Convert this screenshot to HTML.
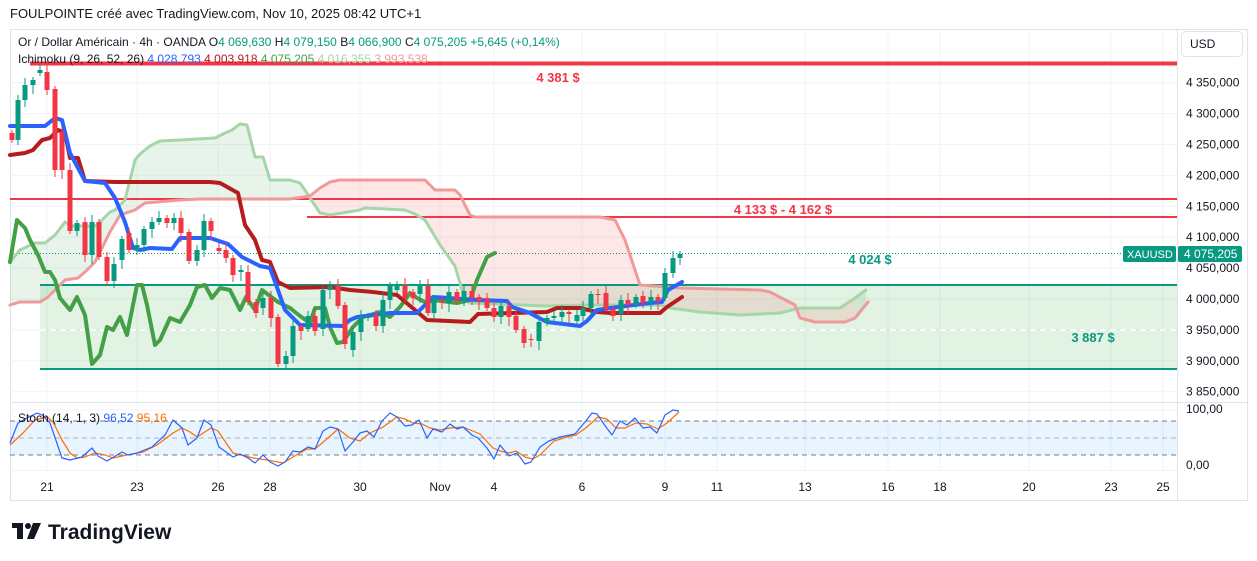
<!DOCTYPE html>
<html><head><meta charset="utf-8"><style>
body{margin:0;background:#fff;width:1257px;height:561px;overflow:hidden;font-family:"Liberation Sans",sans-serif;}
svg{position:absolute;left:0;top:0}
</style></head><body>
<svg id="s" width="1257" height="561" xmlns="http://www.w3.org/2000/svg" font-family="Liberation Sans, sans-serif">
<text x="10" y="18" font-size="13" fill="#131722">FOULPOINTE créé avec TradingView.com, Nov 10, 2025 08:42 UTC+1</text>
<rect x="10.5" y="29.5" width="1237" height="471" fill="none" stroke="#e0e3eb"/>
<g id="grid" stroke="#f0f3fa" stroke-width="1"></g>
<rect x="40" y="284" width="1137" height="85" fill="#4CAF50" fill-opacity="0.16"/>
<g id="cloud"></g>
<line x1="40" y1="330" x2="1177" y2="330" stroke="#fff" stroke-width="1.5" stroke-dasharray="6,4"/>
<line x1="40" y1="285" x2="1177" y2="285" stroke="#089981" stroke-width="2"/>
<line x1="40" y1="369" x2="1177" y2="369" stroke="#089981" stroke-width="2"/>
<line x1="10" y1="199" x2="1177" y2="199" stroke="#F23645" stroke-width="2"/>
<line x1="307" y1="217" x2="1177" y2="217" stroke="#F23645" stroke-width="2"/>
<line x1="30" y1="63.5" x2="1177" y2="63.5" stroke="#F23645" stroke-width="4"/>
<line x1="10" y1="253.5" x2="1177" y2="253.5" stroke="#089981" stroke-width="1" stroke-dasharray="1,2"/>
<g id="lines" fill="none" stroke-linejoin="round" stroke-linecap="round"></g>
<g id="candles"></g>
<text x="558" y="82" font-size="13" font-weight="bold" fill="#F23645" text-anchor="middle">4 381 $</text>
<text x="783" y="214" font-size="13" font-weight="bold" fill="#F23645" text-anchor="middle">4 133 $ - 4 162 $</text>
<text x="870" y="264" font-size="13" font-weight="bold" fill="#089981" text-anchor="middle">4 024 $</text>
<text x="1093" y="342" font-size="13" font-weight="bold" fill="#089981" text-anchor="middle">3 887 $</text>
<text x="18" y="46" font-size="12" fill="#131722">Or / Dollar Américain · 4h · OANDA <tspan>O</tspan><tspan fill="#089981">4 069,630</tspan> <tspan>H</tspan><tspan fill="#089981">4 079,150</tspan> <tspan>B</tspan><tspan fill="#089981">4 066,900</tspan> <tspan>C</tspan><tspan fill="#089981">4 075,205  +5,645 (+0,14%)</tspan></text>
<text x="18" y="63" font-size="12" fill="#131722">Ichimoku (9, 26, 52, 26) <tspan fill="#2962FF">4 028,793</tspan> <tspan fill="#B71C1C">4 003,918</tspan> <tspan fill="#43A047">4 075,205</tspan> <tspan fill="#A5D6A7">4 016,355</tspan> <tspan fill="#EF9A9A">3 993,538</tspan></text>
<line x1="1177.5" y1="30" x2="1177.5" y2="500" stroke="#e0e3eb"/>
<line x1="10" y1="402.5" x2="1248" y2="402.5" stroke="#e0e3eb"/>
<line x1="10" y1="470.5" x2="1177" y2="470.5" stroke="#f0f3fa"/>
<rect x="1181.5" y="31.5" width="61" height="25" rx="4" fill="#fff" stroke="#e0e3eb"/>
<text x="1190" y="48" font-size="12" fill="#131722">USD</text>
<g id="axis" font-size="12" fill="#131722"></g>
<rect x="1123" y="246" width="53" height="16" rx="2" fill="#089981"/>
<text x="1127" y="258" font-size="11" fill="#fff">XAUUSD</text>
<rect x="1178" y="246" width="64" height="16" rx="2" fill="#089981"/>
<text x="1184" y="258" font-size="12" fill="#fff">4 075,205</text>
<rect x="10" y="421" width="1167" height="34" fill="#2196F3" fill-opacity="0.1"/>
<line x1="10" y1="421" x2="1177" y2="421" stroke="#787b86" stroke-dasharray="5,4"/>
<line x1="10" y1="438" x2="1177" y2="438" stroke="#9598a1" stroke-opacity="0.7" stroke-dasharray="5,4"/>
<line x1="10" y1="455" x2="1177" y2="455" stroke="#787b86" stroke-dasharray="5,4"/>
<g id="stoch" fill="none" stroke-width="1.2" stroke-linejoin="round"></g>
<text x="18" y="422" font-size="12" fill="#131722">Stoch (14, 1, 3) <tspan fill="#2962FF">96,52</tspan> <tspan fill="#FF6D00">95,16</tspan></text>
<text x="1186" y="413" font-size="12" fill="#131722">100,00</text>
<text x="1186" y="469" font-size="12" fill="#131722">0,00</text>
<g id="dates" font-size="12" fill="#131722" text-anchor="middle"></g>
<g fill="#131722">
<rect x="12" y="523" width="11" height="5"/><rect x="17" y="523" width="6" height="16"/>
<circle cx="28" cy="526" r="3"/><polygon points="33,523 41,523 34,539 27,539"/>
</g>
<text x="48" y="539" font-size="21" font-weight="bold" fill="#131722">TradingView</text>
</svg>
<script>
const NS="http://www.w3.org/2000/svg";
function el(p,t,a){const e=document.createElementNS(NS,t);for(const k in a)e.setAttribute(k,a[k]);document.getElementById(p).appendChild(e);return e;}
const dates=[[47,"21"],[137,"23"],[218,"26"],[270,"28"],[360,"30"],[440,"Nov"],[494,"4"],[582,"6"],[665,"9"],[717,"11"],[805,"13"],[888,"16"],[940,"18"],[1029,"20"],[1111,"23"],[1163,"25"]];
dates.forEach(([x,t])=>{el("grid","line",{x1:x,y1:30,x2:x,y2:470});const e=el("dates","text",{x:x,y:491});e.textContent=t;});
const Y=p=>82.7+(4350-p)*0.618;
for(let p=3850;p<=4350;p+=50){const y=Y(p);el("grid","line",{x1:10,y1:y,x2:1177,y2:y});
 const e=el("axis","text",{x:1186,y:y+4});e.textContent=String(p).replace(/^(\d)/,"$1 ")+",000";}
el("grid","line",{x1:10,y1:410,x2:1177,y2:410});
const P=a=>a.map(v=>v.join(",")).join(" ");
const A=[[10,262],[20,250],[35,243],[45,243],[55,235],[65,222],[70,226],[95,226],[100,222],[110,212],[115,210],[125,200],[135,160],[140,154],[150,146],[160,141],[180,140],[215,138],[225,133],[232,130],[240,124],[247,125],[255,157],[263,157],[270,180],[290,180],[300,183],[305,190],[310,198],[320,213],[330,215],[360,210],[365,208],[405,210],[415,214],[425,220],[440,245],[455,266],[460,283],[462,290],[467,301],[470,303],[520,305],[545,306],[590,305],[640,305],[660,305],[670,308],[700,312],[740,315],[780,313],[800,308],[840,308],[855,298],[866,290]];
const B=[[10,305],[20,302],[40,302],[48,297],[55,290],[65,280],[78,278],[85,272],[95,262],[110,232],[120,215],[135,210],[145,203],[180,200],[200,199],[290,199],[310,196],[315,192],[320,188],[330,182],[340,180],[425,180],[435,190],[455,190],[460,195],[470,215],[475,217],[600,217],[615,220],[625,240],[640,285],[680,288],[760,290],[770,292],[795,305],[800,318],[815,322],[845,322],[855,318],[868,302]];
function interp(a,x){for(let i=0;i<a.length-1;i++)if(x>=a[i][0]&&x<=a[i+1][0]){const t=(x-a[i][0])/(a[i+1][0]-a[i][0]||1);return a[i][1]+t*(a[i+1][1]-a[i][1]);}return a[a.length-1][1];}
function band(x0,x1,col){const top=[],bot=[];for(let x=x0;x<=x1;x+=2){top.push([x,interp(A,x)]);bot.push([x,interp(B,x)]);}el("cloud","polygon",{points:P(top.concat(bot.reverse())),fill:col});}
band(10,306,"rgba(67,160,71,0.12)");band(306,856,"rgba(244,67,54,0.12)");band(856,866,"rgba(67,160,71,0.12)");
const L=(pts,c,w)=>el("lines","polyline",{points:P(pts),stroke:c,"stroke-width":w});
L(A,"#A5D6A7",3);L(B,"#EF9A9A",3);
L([[10,262],[17,220],[25,228],[30,240],[38,255],[45,272],[50,272],[55,280],[60,298],[70,310],[77,297],[85,315],[92,364],[100,355],[107,327],[113,330],[120,317],[127,335],[137,285],[142,285],[147,305],[155,345],[160,340],[170,318],[180,322],[190,305],[197,287],[205,285],[212,298],[220,288],[230,290],[240,310],[246,297],[255,310],[262,290],[270,296],[278,302],[290,308],[300,316],[310,323],[315,308],[325,308],[330,327],[337,343],[343,342],[353,327],[363,317],[380,312],[390,317],[400,307],[410,293],[417,298],[427,303],[433,300],[457,303],[470,300],[477,280],[487,257],[495,253]],"#43A047",4);
L([[10,155],[25,153],[33,150],[42,140],[50,138],[58,130],[65,133],[70,158],[78,158],[85,181],[115,182],[210,182],[220,183],[238,193],[245,225],[255,240],[262,260],[270,262],[278,282],[290,288],[330,287],[350,290],[373,292],[397,295],[427,320],[470,322],[478,314],[547,312],[557,308],[580,308],[597,312],[610,313],[660,313],[667,307],[682,297]],"#B71C1C",4);
L([[10,126],[45,126],[55,118],[62,120],[70,153],[85,181],[105,183],[115,198],[125,222],[133,248],[140,250],[150,248],[172,249],[180,238],[210,238],[228,244],[242,257],[260,266],[270,268],[278,290],[285,310],[300,325],[343,326],[350,320],[357,317],[390,313],[417,313],[427,303],[433,297],[477,300],[507,301],[512,307],[530,313],[537,317],[547,322],[580,326],[587,321],[597,310],[610,308],[650,303],[662,302],[668,290],[682,282]],"#2962FF",4);
const C=[[12,133,140],[18,140,100],[25,100,85],[33,85,80],[40,73,70],[47,72,90],[55,89,170],[62,132,170],[70,170,231],[77,231,223],[85,222,255],[92,255,222],[99,222,257],[107,257,281],[114,281,264],[122,260,239],[129,233,250],[137,250,245],[144,245,229],[152,229,222],[159,222,218],[167,218,223],[174,223,218],[181,218,233],[189,232,261],[197,261,250],[204,250,221],[211,221,231],[219,248,251],[226,250,258],[233,258,275],[241,272,270],[248,272,302],[256,302,313],[263,308,298],[271,298,318],[278,317,364],[286,364,356],[293,356,326],[301,326,331],[308,329,316],[315,316,331],[323,329,290],[330,290,286],[338,286,306],[345,305,344],[353,350,332],[361,332,317],[368,318,316],[376,315,326],[383,326,300],[390,300,285],[397,290,286],[405,285,298],[413,292,298],[420,294,285],[428,286,313],[434,313,298],[442,300,302],[449,303,292],[457,292,301],[464,301,291],[472,291,298],[479,297,301],[487,298,308],[494,308,317],[501,317,306],[509,306,317],[516,316,330],[524,329,343],[531,339,340],[539,341,322],[547,323,318],[554,318,316],[562,317,312],[569,312,314],[577,321,315],[583,316,308],[591,308,294],[598,294,295],[606,293,309],[613,309,316],[621,314,300],[628,300,305],[636,305,297],[643,296,303],[651,303,297],[658,297,301],[665,298,273],[673,273,258],[680,258,254]];
C.forEach(([x,o,c],i)=>{const up=c<o,col=up?"#089981":"#F23645";const hi=Math.min(o,c)-3-(i%3)*2,lo=Math.max(o,c)+3+(i%4)*2;
el("candles","line",{x1:x,y1:hi,x2:x,y2:lo,stroke:col,"stroke-width":1});
el("candles","rect",{x:x-2.5,y:Math.min(o,c),width:5,height:Math.max(1,Math.abs(o-c)),fill:col});});
const SB=[[10,443],[18,423],[27,418],[37,413],[42,415],[50,423],[62,458],[70,460],[82,457],[92,448],[98,456],[107,461],[122,452],[128,455],[137,453],[152,447],[165,435],[173,420],[182,428],[188,445],[197,438],[204,420],[211,425],[219,447],[233,457],[240,454],[248,458],[255,463],[263,455],[270,462],[278,466],[285,462],[293,451],[300,452],[308,447],[315,449],[323,431],[330,427],[338,429],[345,451],[353,442],[360,433],[367,431],[374,437],[382,421],[390,413],[397,417],[405,426],[412,425],[419,420],[427,438],[433,429],[442,432],[450,424],[457,429],[463,427],[472,435],[478,438],[487,448],[494,459],[500,445],[509,456],[517,453],[525,464],[531,462],[540,447],[549,441],[560,437],[575,434],[585,422],[592,413],[597,414],[606,427],[612,435],[620,421],[627,425],[635,418],[643,428],[650,427],[657,433],[665,415],[673,410],[679,411]];
const SO=[[10,445],[23,433],[35,420],[47,417],[53,422],[62,440],[70,453],[77,458],[85,457],[95,453],[105,455],[113,458],[127,455],[143,452],[157,445],[173,433],[182,428],[190,432],[197,437],[211,428],[218,431],[233,453],[253,458],[267,460],[283,463],[293,457],[307,449],[315,449],[328,438],[338,429],[350,438],[360,441],[370,433],[383,427],[397,417],[405,419],[413,423],[422,424],[430,428],[440,430],[450,428],[463,427],[480,434],[493,448],[500,451],[509,453],[516,451],[525,457],[533,459],[540,455],[554,441],[567,437],[576,435],[587,427],[598,417],[607,419],[616,428],[625,428],[636,423],[647,424],[658,429],[667,423],[679,412]];
el("stoch","polyline",{points:P(SO),stroke:"#FF6D00"});
el("stoch","polyline",{points:P(SB),stroke:"#2962FF"});
</script>
</body></html>
